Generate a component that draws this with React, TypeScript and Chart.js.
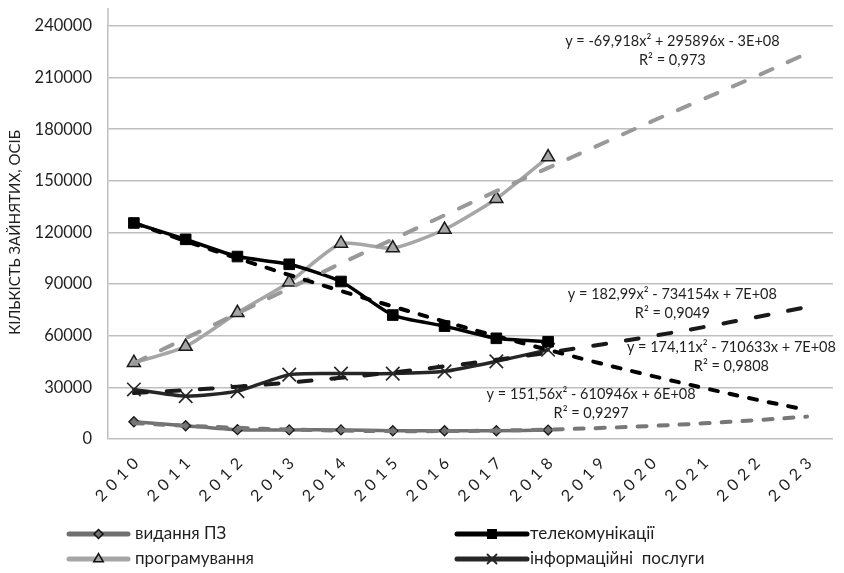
import React, { useEffect, useRef } from 'react';
import { Chart, registerables } from 'chart.js';

Chart.register(...registerables);

// ---- data ----
const years = ['2010', '2011', '2012', '2013', '2014', '2015', '2016', '2017', '2018', '2019', '2020', '2021', '2022', '2023'];

const publishing = [10000, 7700, 5400, 5300, 5300, 4800, 4800, 4800, 5200];
const telecom = [125500, 116000, 106000, 101500, 91500, 72000, 65600, 58500, 56500];
const programming = [44300, 53700, 73300, 91100, 113600, 110900, 121700, 139600, 163800];
const infoServices = [28800, 24900, 27800, 37400, 38000, 38000, 39300, 45100, 51800];

const publishingTrend = [9200, 7700, 6500, 5500, 4900, 4600, 4600, 4900, 5500, 6400, 7600, 9100, 10900, 13000];
const telecomTrend = [125500, 115000, 105000, 95300, 86000, 77000, 68200, 59800, 51800, 44000, 36700, 29700, 23000, 16900];
const programmingTrend = [44000, 58500, 73000, 87500, 102000, 116000, 130000, 144000, 157500, 171000, 184500, 197500, 210500, 224000];
const infoTrend = [26700, 28400, 30400, 32800, 35600, 38700, 42200, 46000, 50200, 54800, 59700, 65000, 70700, 76700];

const yTicks = [0, 30000, 60000, 90000, 120000, 150000, 180000, 210000, 240000];

const seriesNames = ['видання ПЗ', 'телекомунікації', 'програмування', 'інформаційні  послуги'];
const yTitle = 'КІЛЬКІСТЬ ЗАЙНЯТИХ, ОСІБ';

const trendEquations = [
  'y = -69,918x² + 295896x - 3E+08',
  'y = 182,99x² - 734154x + 7E+08',
  'y = 174,11x² - 710633x + 7E+08',
  'y = 151,56x² - 610946x + 6E+08',
];
const trendR2 = ['R² = 0,973', 'R² = 0,9049', 'R² = 0,9808', 'R² = 0,9297'];
// anchor of each equation label: fractional category index and value
const eqAnchorIndex = [10.4, 10.4, 11.54, 8.83];
const eqAnchorValue = [225400, 78300, 47500, 20300];

// ---- styles ----
const FONT = 'Lato, "Open Sans", sans-serif';
const TEXT = '#1f1f1f';
const C_PUB = '#707070';
const C_PROG = '#a6a6a6';
const C_TEL = '#000000';
const C_INFO = '#262626';

type LegendSpec = { color: string; marker: string; col: number; row: number };
const legendSpecs: LegendSpec[] = [
  { color: C_PUB, marker: 'diamond', col: 0, row: 0 },
  { color: C_TEL, marker: 'square', col: 1, row: 0 },
  { color: C_PROG, marker: 'triangle', col: 0, row: 1 },
  { color: C_INFO, marker: 'x', col: 1, row: 1 },
];

function drawLegendMarker(ctx: CanvasRenderingContext2D, kind: string, x: number, y: number, color: string) {
  ctx.save();
  ctx.lineWidth = 1.5;
  ctx.strokeStyle = '#111';
  ctx.fillStyle = color;
  ctx.beginPath();
  if (kind === 'diamond') {
    const r = 4.5;
    ctx.moveTo(x - r, y); ctx.lineTo(x, y - r); ctx.lineTo(x + r, y); ctx.lineTo(x, y + r); ctx.closePath();
    ctx.fill(); ctx.stroke();
  } else if (kind === 'triangle') {
    const r = 5.5;
    ctx.moveTo(x, y - r); ctx.lineTo(x + r * 0.866, y + r * 0.5); ctx.lineTo(x - r * 0.866, y + r * 0.5); ctx.closePath();
    ctx.fill(); ctx.stroke();
  } else if (kind === 'square') {
    const s = 5;
    ctx.fillStyle = '#000';
    ctx.fillRect(x - s, y - s, 2 * s, 2 * s);
  } else if (kind === 'x') {
    const s = 4.5;
    ctx.strokeStyle = color;
    ctx.lineWidth = 1.8;
    ctx.moveTo(x - s, y - s); ctx.lineTo(x + s, y + s);
    ctx.moveTo(x + s, y - s); ctx.lineTo(x - s, y + s);
    ctx.stroke();
  }
  ctx.restore();
}

const extrasPlugin = {
  id: 'extras',
  afterDraw(chart: any) {
    const { ctx, chartArea, scales } = chart;
    const xs = scales.x;
    const ys = scales.y;

    // extend vertical axis above the top gridline
    ctx.save();
    ctx.strokeStyle = '#bfbfbf';
    ctx.lineWidth = 1.5;
    ctx.beginPath();
    ctx.moveTo(chartArea.left, chartArea.top - 18);
    ctx.lineTo(chartArea.left, chartArea.top);
    ctx.stroke();
    ctx.restore();

    // rotated, letter-spaced category labels
    ctx.save();
    ctx.font = `16px ${FONT}`;
    ctx.fillStyle = TEXT;
    (ctx as any).letterSpacing = '5.5px';
    years.forEach((lab, i) => {
      const x = xs.getPixelForValue(i);
      ctx.save();
      ctx.translate(x + 6, chartArea.bottom + 18);
      ctx.rotate(-Math.PI / 4);
      ctx.textAlign = 'right';
      ctx.textBaseline = 'middle';
      ctx.fillText(lab, 0, 0);
      ctx.restore();
    });
    ctx.restore();

    // trend equations
    ctx.save();
    ctx.font = `14.5px ${FONT}`;
    ctx.fillStyle = TEXT;
    ctx.textAlign = 'center';
    ctx.textBaseline = 'middle';
    trendEquations.forEach((eq, i) => {
      const idx = eqAnchorIndex[i];
      const x0 = xs.getPixelForValue(Math.floor(idx));
      const x1 = xs.getPixelForValue(Math.floor(idx) + 1);
      const x = x0 + (x1 - x0) * (idx - Math.floor(idx));
      const y = ys.getPixelForValue(eqAnchorValue[i]);
      ctx.fillText(eq, x, y - 9.5);
      ctx.fillText(trendR2[i], x, y + 9.5);
    });
    ctx.restore();

    // legend, two columns
    const colLine = [[69, 128], [457, 527]];
    const colText = [135, 530];
    const rowY = [534, 559];
    ctx.save();
    ctx.font = `17px ${FONT}`;
    ctx.textBaseline = 'middle';
    ctx.textAlign = 'left';
    legendSpecs.forEach((spec, i) => {
      const [l0, l1] = colLine[spec.col];
      const y = rowY[spec.row];
      ctx.strokeStyle = spec.color;
      ctx.lineWidth = 5;
      ctx.lineCap = 'round';
      ctx.beginPath();
      ctx.moveTo(l0, y);
      ctx.lineTo(l1, y);
      ctx.stroke();
      drawLegendMarker(ctx, spec.marker, (l0 + l1) / 2, y, spec.color);
      ctx.fillStyle = TEXT;
      ctx.fillText(seriesNames[i], colText[spec.col], y);
    });
    ctx.restore();
  },
};

export default function App() {
  const ref = useRef<HTMLCanvasElement>(null);

  useEffect(() => {
    const canvas = ref.current;
    if (!canvas) return;
    const mainLine = { borderWidth: 3.5, tension: 0.2, fill: false, order: 2, borderCapStyle: 'round', borderJoinStyle: 'round' };
    const trendLine = { borderWidth: 4, tension: 0.4, fill: false, order: 1, pointRadius: 0, borderCapStyle: 'round' };
    const chart = new Chart(canvas, {
      type: 'line',
      data: {
        labels: years,
        datasets: [
          { ...mainLine, label: seriesNames[0], data: publishing, borderColor: C_PUB, backgroundColor: C_PUB,
            pointStyle: 'rectRot', pointRadius: 5, pointBackgroundColor: C_PUB, pointBorderColor: '#1a1a1a', pointBorderWidth: 1.3 },
          { ...mainLine, label: seriesNames[1], data: telecom, borderColor: C_TEL, backgroundColor: C_TEL,
            pointStyle: 'rect', pointRadius: 7.5, pointBackgroundColor: C_TEL, pointBorderColor: C_TEL, pointBorderWidth: 1 },
          { ...mainLine, label: seriesNames[2], data: programming, borderColor: C_PROG, backgroundColor: C_PROG,
            pointStyle: 'triangle', pointRadius: 7.5, pointBackgroundColor: C_PROG, pointBorderColor: '#1a1a1a', pointBorderWidth: 1.5 },
          { ...mainLine, label: seriesNames[3], data: infoServices, borderColor: C_INFO, backgroundColor: C_INFO,
            pointStyle: 'crossRot', pointRadius: 9.5, pointBackgroundColor: C_INFO, pointBorderColor: C_INFO, pointBorderWidth: 1.6 },
          { ...trendLine, label: 'trend1', data: publishingTrend, borderColor: '#777777', borderDash: [9, 12] },
          { ...trendLine, label: 'trend2', data: telecomTrend, borderColor: '#000000', borderDash: [8, 12] },
          { ...trendLine, label: 'trend3', data: programmingTrend, borderColor: '#999999', borderDash: [13, 17] },
          { ...trendLine, label: 'trend4', data: infoTrend, borderColor: '#1a1a1a', borderDash: [13, 20] },
        ] as any,
      },
      options: {
        responsive: true,
        maintainAspectRatio: false,
        animation: false,
        layout: { padding: { top: 23, right: 7, left: 0, bottom: 0 } },
        plugins: { legend: { display: false }, tooltip: { enabled: false } },
        scales: {
          x: {
            offset: true,
            grid: { display: false },
            border: { display: false },
            ticks: { display: false },
            afterFit: (s: any) => { s.height = 134; },
          },
          y: {
            min: 0,
            max: 240000,
            afterBuildTicks: (s: any) => { s.ticks = yTicks.map((v) => ({ value: v })); },
            ticks: {
              padding: 16,
              color: TEXT,
              font: { family: FONT, size: 16.5 },
              callback: (v: any) => String(v),
            },
            grid: { color: '#bfbfbf', lineWidth: 1.5, drawTicks: false },
            border: { display: true, color: '#bfbfbf', width: 1.5 },
            title: {
              display: true,
              text: yTitle,
              color: TEXT,
              font: { family: FONT, size: 15 },
              padding: { top: 6, bottom: 0 },
            },
            afterFit: (s: any) => { s.width = 108; },
          },
        },
      } as any,
      plugins: [extrasPlugin],
    });
    return () => chart.destroy();
  }, []);

  return (
    <div style={{ position: 'fixed', left: 0, top: 0, width: 844, height: 573, background: '#fff' }}>
      <canvas ref={ref} />
    </div>
  );
}
